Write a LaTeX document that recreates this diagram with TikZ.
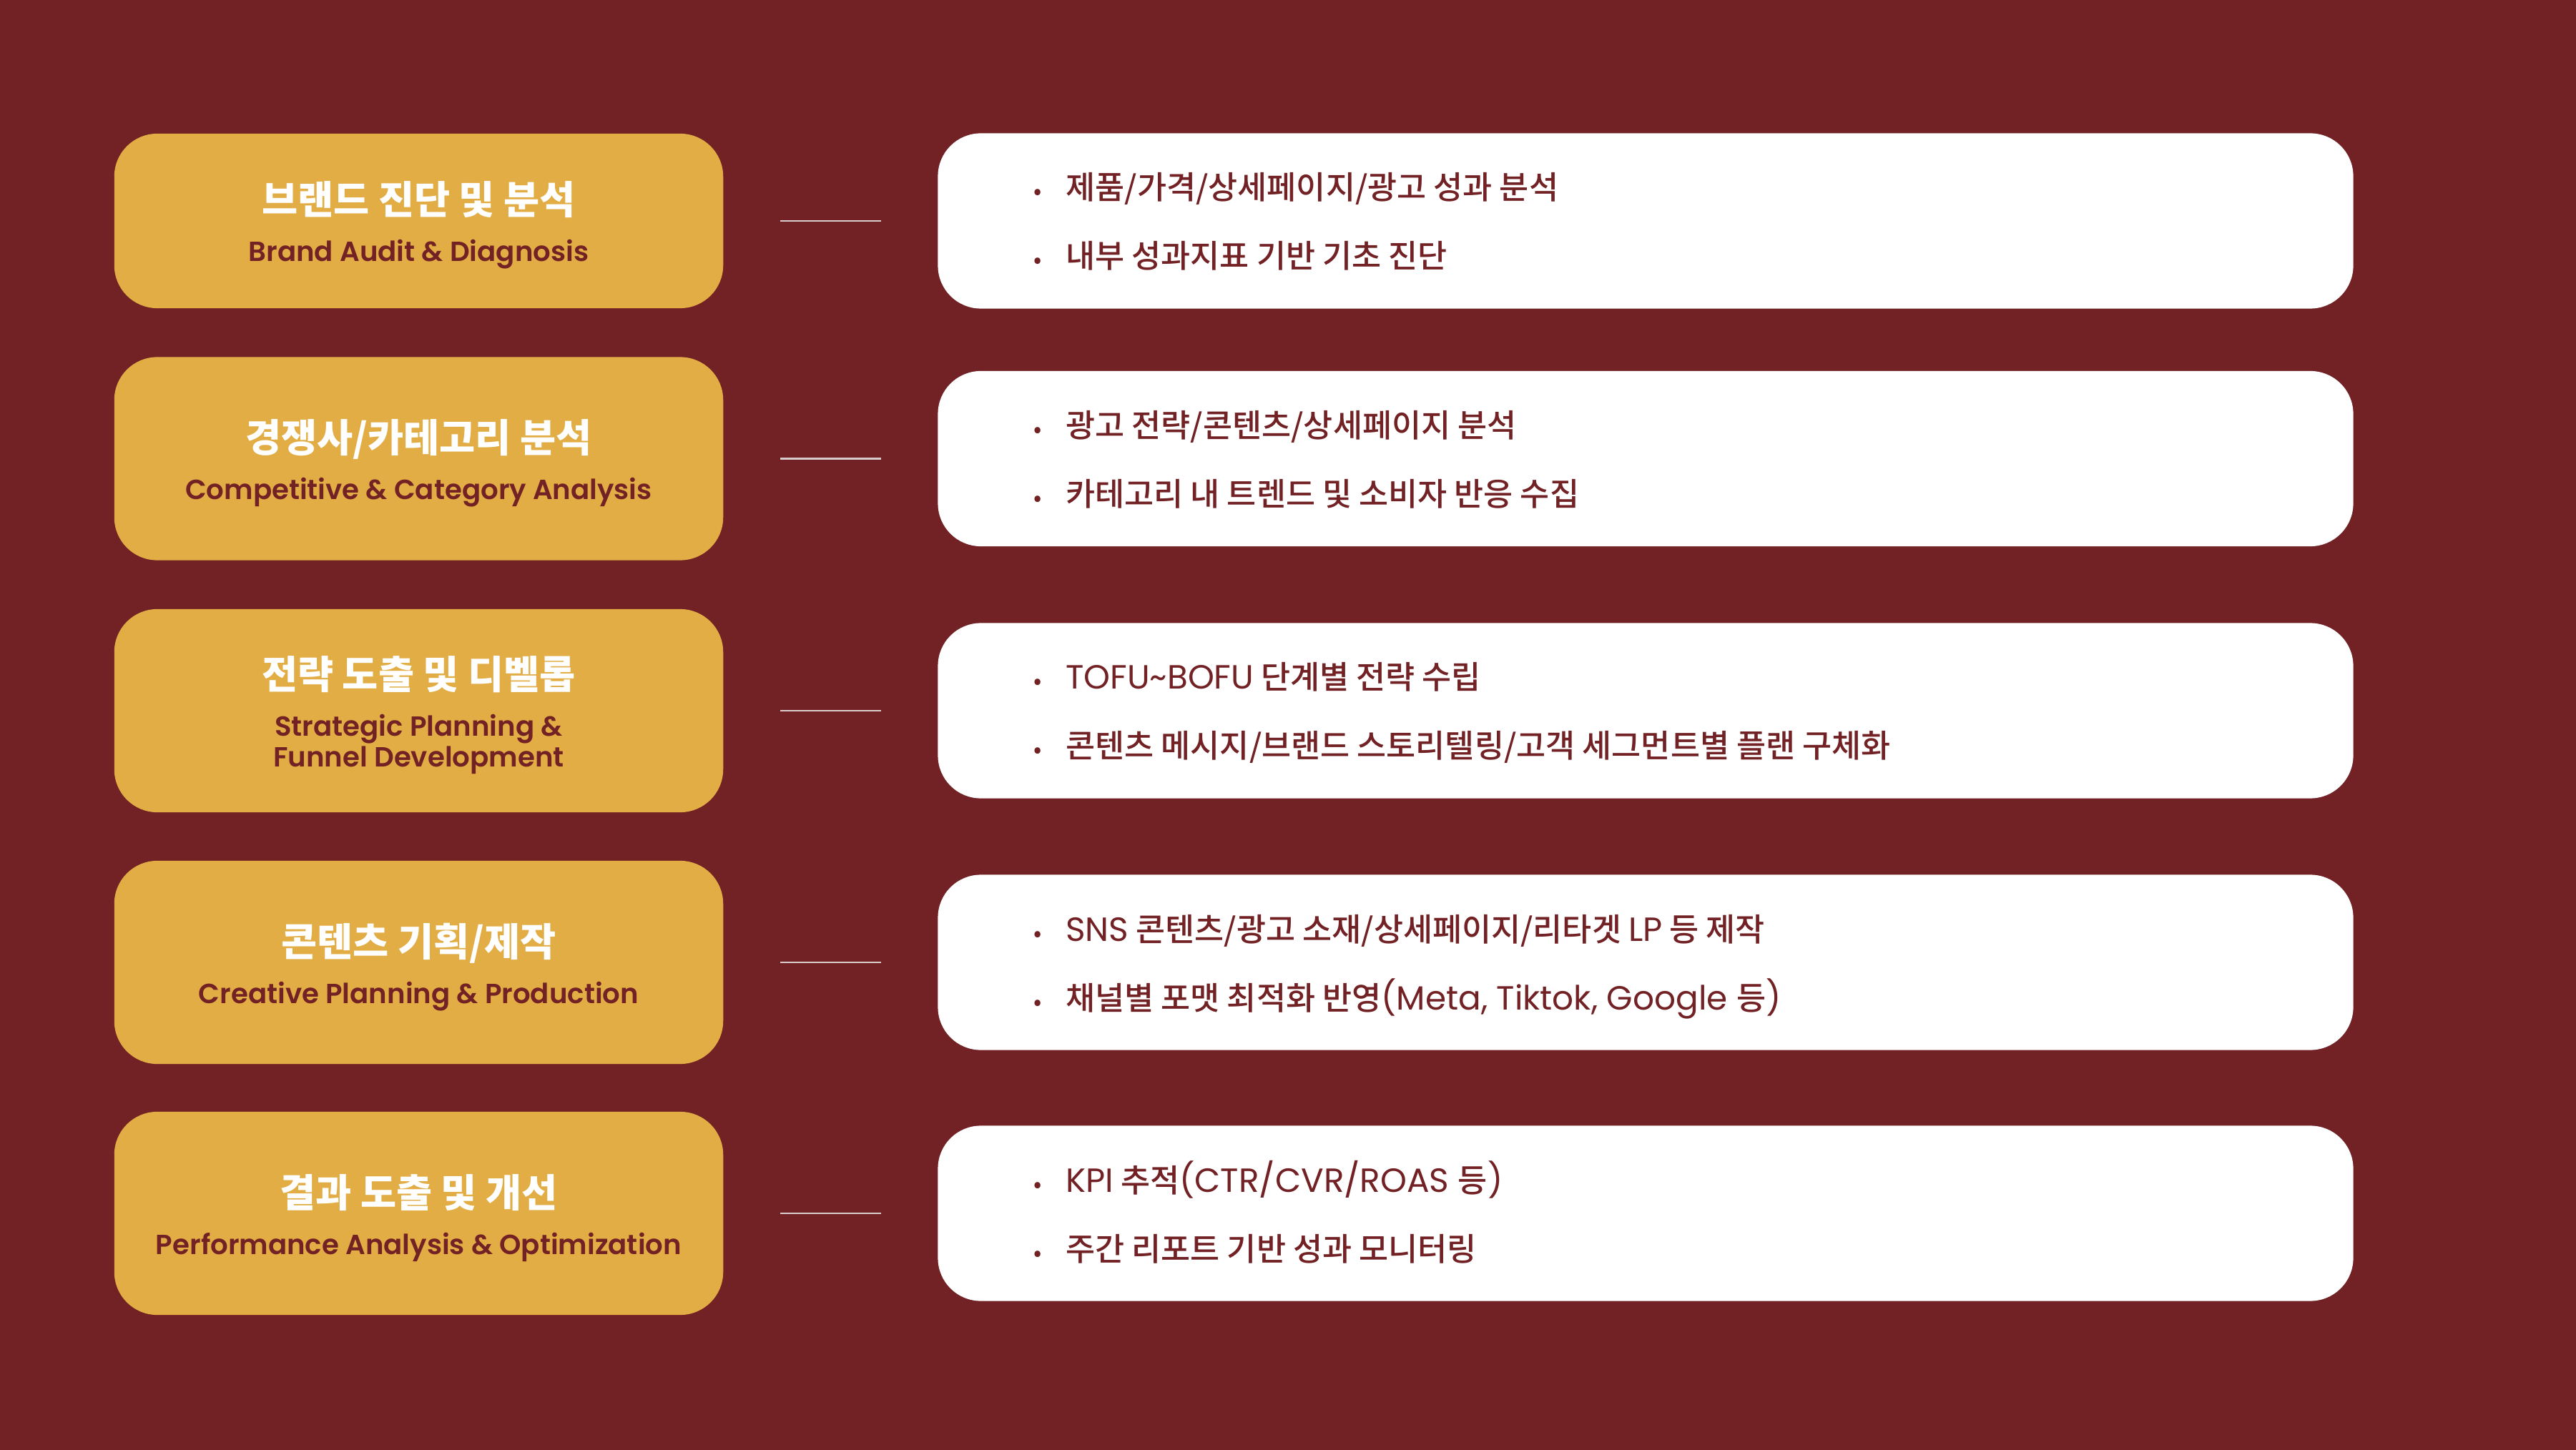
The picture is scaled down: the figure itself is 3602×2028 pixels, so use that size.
\documentclass[tikz,border=0pt]{standalone}
\usepackage{fontspec}
\setmainfont{Noto Sans CJK KR}
\newfontfamily\krmed{Noto Sans CJK KR Medium}
\newfontfamily\enfont{Poppins}[Scale=1.05]
\newfontfamily\ensemi{Poppins SemiBold}
\usepackage{xcolor}
\definecolor{Maroon-bg}{HTML}{722124}
\definecolor{Mustard}{HTML}{E2AD44}
\definecolor{Line-gray}{HTML}{D8CCCC}
\usetikzlibrary{positioning,calc}
\newcommand\en[1]{{\enfont #1}}
\newcommand\dotmark{\makebox[0.45cm][l]{\fontsize{9}{9}\selectfont •}}

\begin{document}
\begin{tikzpicture} [ % 스타일 먼저 정의
            x=0.01cm, y=-0.01cm, font=\fontsize{12.7}{15}\selectfont\krmed,
            stage/.style = {rounded corners=0.6cm, fill=Mustard, minimum width=8.51cm, minimum height=2.84cm, inner sep=0pt},
            detail/.style = {rounded corners=0.6cm, fill=white, minimum width=19.78cm, minimum height=2.45cm, inner sep=0pt},
            title-kr/.style = {anchor=base, text=white, inner sep=0pt, font=\fontsize{15.5}{18}\selectfont\bfseries},
            title-en/.style = {anchor=base, text=Maroon-bg, inner sep=0pt, align=center, font=\fontsize{11}{12.2}\selectfont\ensemi},
            item/.style = {anchor=base west, text=Maroon-bg, inner sep=0pt},
            link/.style = {draw=Line-gray, line width=0.6pt, shorten <=0.79cm, shorten >=0.79cm}
        ]

        % 매크로
        \pgfmathsetmacro{\lx}{585.5}; % 왼쪽 박스 중심 x
        \pgfmathsetmacro{\rx}{2301}; % 오른쪽 박스 중심 x

        % 배경
        \fill [Maroon-bg] (0,0) rectangle (3602,2028);
        \useasboundingbox (0,0) rectangle (3602,2028);

        % 1행
        \node [stage, minimum height=2.44cm] (s1) at (\lx,309) {};
        \node [title-kr] (s1t) at ($(s1.center)+(0,-9)$) {브랜드 진단 및 분석};
        \node [title-en] (s1e) at ($(s1.center)+(0,57)$) {Brand Audit \& Diagnosis};
        \node [detail] (d1) at (\rx,309) {};
        \node [item] (d1a) at ($(d1.west)+(134,-30)$) {\dotmark 제품/가격/상세페이지/광고 성과 분석};
        \node [item] (d1b) at ($(d1.west)+(134,66)$) {\dotmark 내부 성과지표 기반 기초 진단};
        \draw [link] (s1) -- (d1);

        % 2행
        \node [stage] (s2) at (\lx,641.5) {};
        \node [title-kr] (s2t) at ($(s2.center)+(0,-9)$) {경쟁사/카테고리 분석};
        \node [title-en] (s2e) at ($(s2.center)+(0,57)$) {Competitive \& Category Analysis};
        \node [detail] (d2) at (\rx,641.5) {};
        \node [item] (d2a) at ($(d2.west)+(134,-30)$) {\dotmark 광고 전략/콘텐츠/상세페이지 분석};
        \node [item] (d2b) at ($(d2.west)+(134,66)$) {\dotmark 카테고리 내 트렌드 및 소비자 반응 수집};
        \draw [link] (s2) -- (d2);

        % 3행 (영문 두 줄)
        \node [stage] (s3) at (\lx,994) {};
        \node [title-kr] (s3t) at ($(s3.center)+(0,-30)$) {전략 도출 및 디벨롭};
        \node [title-en] (s3e) at ($(s3.center)+(0,78)$) {Strategic Planning \&\\Funnel Development};
        \node [detail] (d3) at (\rx,994) {};
        \node [item] (d3a) at ($(d3.west)+(134,-30)$) {\dotmark \en{TOFU\textasciitilde BOFU} 단계별 전략 수립};
        \node [item] (d3b) at ($(d3.west)+(134,66)$) {\dotmark 콘텐츠 메시지/브랜드 스토리텔링/고객 세그먼트별 플랜 구체화};
        \draw [link] (s3) -- (d3);

        % 4행
        \node [stage] (s4) at (\lx,1346) {};
        \node [title-kr] (s4t) at ($(s4.center)+(0,-9)$) {콘텐츠 기획/제작};
        \node [title-en] (s4e) at ($(s4.center)+(0,57)$) {Creative Planning \& Production};
        \node [detail] (d4) at (\rx,1346) {};
        \node [item] (d4a) at ($(d4.west)+(134,-30)$) {\dotmark \en{SNS} 콘텐츠/광고 소재/상세페이지/리타겟 \en{LP} 등 제작};
        \node [item] (d4b) at ($(d4.west)+(134,66)$) {\dotmark 채널별 포맷 최적화 반영\en{(Meta, Tiktok, Google }등\en{)}};
        \draw [link] (s4) -- (d4);

        % 5행
        \node [stage] (s5) at (\lx,1697) {};
        \node [title-kr] (s5t) at ($(s5.center)+(0,-9)$) {결과 도출 및 개선};
        \node [title-en] (s5e) at ($(s5.center)+(0,57)$) {Performance Analysis \& Optimization};
        \node [detail] (d5) at (\rx,1697) {};
        \node [item] (d5a) at ($(d5.west)+(134,-30)$) {\dotmark \en{KPI} 추적\en{(CTR/CVR/ROAS }등\en{)}};
        \node [item] (d5b) at ($(d5.west)+(134,66)$) {\dotmark 주간 리포트 기반 성과 모니터링};
        \draw [link] (s5) -- (d5);

    \end{tikzpicture}
\end{document}
